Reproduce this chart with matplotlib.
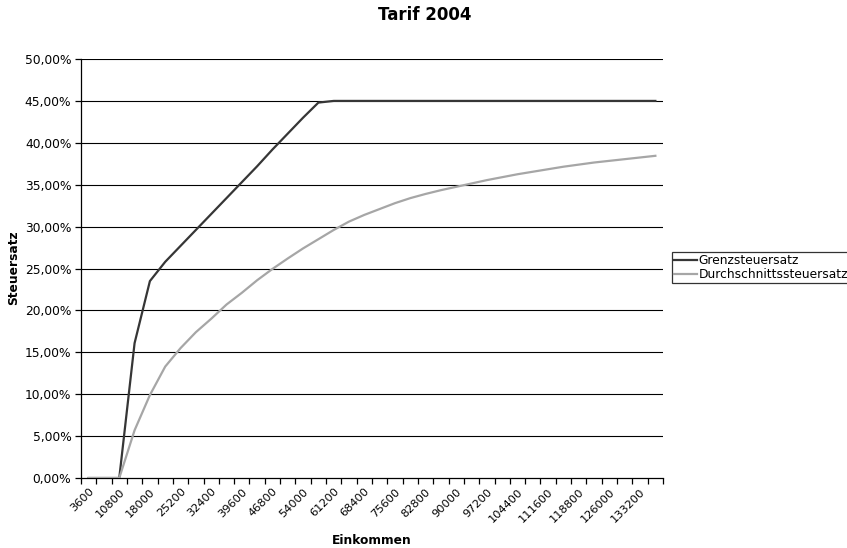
import numpy as np
import matplotlib
matplotlib.use("Agg")
import matplotlib.pyplot as plt
import matplotlib.transforms as mtransforms
from matplotlib.ticker import FuncFormatter

# Einkommen in Schritten von 3600
einkommen = list(range(3600, 136801, 3600))

# Grenzsteuersatz in %
grenz = [0.0, 0.0, 0.0, 16.1, 23.5, 25.8, 27.7, 29.6, 31.5, 33.4,
         35.3, 37.2, 39.2, 41.1, 43.0, 44.8, 45.0, 45.0, 45.0, 45.0,
         45.0, 45.0, 45.0, 45.0, 45.0, 45.0, 45.0, 45.0, 45.0, 45.0,
         45.0, 45.0, 45.0, 45.0, 45.0, 45.0, 45.0, 45.0]

# Durchschnittssteuersatz in %
durchschnitt = [0.0, 0.0, 0.0, 5.7, 9.9, 13.3, 15.5, 17.4, 19.0, 20.7,
                22.1, 23.6, 24.95, 26.2, 27.4, 28.5, 29.6, 30.6, 31.4, 32.1,
                32.8, 33.4, 33.9, 34.35, 34.75, 35.15, 35.55, 35.9, 36.25, 36.55,
                36.85, 37.15, 37.4, 37.65, 37.85, 38.05, 38.25, 38.45]

plt.rcParams['font.family'] = ['DejaVu Sans']
fs = 8.8

fig = plt.figure(figsize=(8.47, 5.48), dpi=100)
ax = fig.add_axes([0.0956, 0.1277, 0.6872, 0.7646])

pos = np.arange(len(einkommen)) + 0.5
ax.plot(pos, np.array(grenz) / 100, color='#363636', lw=1.6,
        label='Grenzsteuersatz', zorder=3)
ax.plot(pos, np.array(durchschnitt) / 100, color='#a6a6a6', lw=1.6,
        label='Durchschnittssteuersatz', zorder=3)

ax.set_xlim(0, len(einkommen))
ax.set_ylim(0, 0.5)

# Gitterlinien
ax.set_yticks(np.arange(0, 0.501, 0.05))
ax.yaxis.set_major_formatter(FuncFormatter(lambda v, p: f"{v * 100:.2f}%".replace('.', ',')))
for v in np.arange(0.05, 0.501, 0.05):
    ax.axhline(v, color='black', lw=0.8, zorder=1)

# Striche zwischen den Kategorien, Beschriftung jeder zweiten
ax.set_xticks(np.arange(0, len(einkommen) + 1))
ax.set_xticklabels([])
ax.set_xticks(pos[::2], minor=True)
ax.set_xticklabels([str(e) for e in einkommen[::2]], minor=True,
                   rotation=45, ha='right', rotation_mode='anchor', fontsize=8.2)
shift = mtransforms.ScaledTranslation(-0.035, 0, fig.dpi_scale_trans)
for lbl in ax.get_xticklabels(minor=True):
    lbl.set_transform(lbl.get_transform() + shift)
ax.tick_params(axis='x', which='minor', length=0, pad=6)
ax.tick_params(axis='x', which='major', direction='out', length=4, width=0.9)
ax.tick_params(axis='y', direction='out', length=4, width=0.9, labelsize=fs, pad=3)

for s in ['top', 'right']:
    ax.spines[s].set_visible(False)
for s in ['left', 'bottom']:
    ax.spines[s].set_linewidth(0.9)

fig.text(425 / 847, 1 - 15 / 548, 'Tarif 2004', fontsize=12, fontweight='bold',
         ha='center', va='center')
fig.text(372 / 847, 1 - 540 / 548, 'Einkommen', fontsize=fs, fontweight='bold',
         ha='center', va='center')
fig.text(14 / 847, 1 - 268 / 548, 'Steuersatz', fontsize=fs, fontweight='bold',
         ha='center', va='center', rotation=90)

leg = ax.legend(loc='upper left', bbox_to_anchor=(1.015, 0.539), fontsize=fs,
                frameon=True, fancybox=False, edgecolor='black',
                handlelength=1.9, handletextpad=0.15, borderpad=0.15,
                labelspacing=0.1, borderaxespad=0)
leg.get_frame().set_linewidth(0.9)

fig.savefig('out.png', dpi=100)
